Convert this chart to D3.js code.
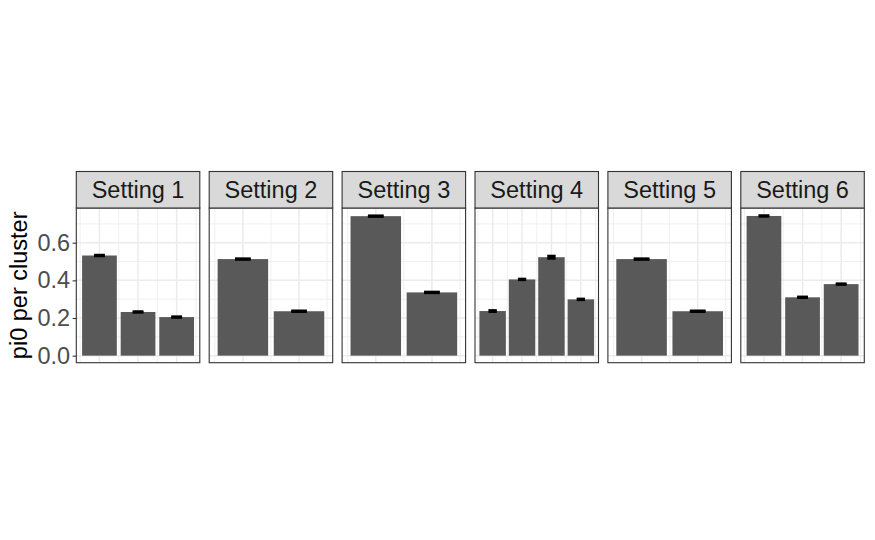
<!DOCTYPE html>
<html>
<head>
<meta charset="utf-8">
<script src="https://cdn.jsdelivr.net/npm/d3@7"></script>
<style>
  html, body { margin: 0; padding: 0; background: #fff; }
  svg { display: block; font-family: "Liberation Sans", Arial, sans-serif; }
</style>
</head>
<body>
<svg id="chart" width="875" height="540"></svg>
<script>
// facet labels
const settings = ["Setting 1", "Setting 2", "Setting 3", "Setting 4", "Setting 5", "Setting 6"];

// pi0 per cluster, one array per setting
const pi0S1 = [0.532, 0.232, 0.205];
const pi0S2 = [0.513, 0.236];
const pi0S3 = [0.741, 0.336];
const pi0S4 = [0.237, 0.405, 0.523, 0.299];
const pi0S5 = [0.513, 0.236];
const pi0S6 = [0.742, 0.310, 0.380];

// standard errors (half width of error bars)
const seS1 = [0.005, 0.005, 0.005];
const seS2 = [0.005, 0.005];
const seS3 = [0.005, 0.005];
const seS4 = [0.006, 0.005, 0.009, 0.005];
const seS5 = [0.005, 0.005];
const seS6 = [0.005, 0.005, 0.005];

const yTicks = [0, 0.2, 0.4, 0.6];
const yMinor = [0.1, 0.3, 0.5, 0.7];

const values = [pi0S1, pi0S2, pi0S3, pi0S4, pi0S5, pi0S6];
const errors = [seS1, seS2, seS3, seS4, seS5, seS6];

const svg = d3.select("#chart");

const left = 76.3, right = 864.3, gap = 9.4;
const stripTop = 171.5, panelTop = 208, panelBottom = 362.7;
const panelW = (right - left - gap * 5) / 6;
const fontSize = 23.5;

// y domain like ggplot: data range plus 5% each side
const yMax = d3.max(values.flatMap((v, i) => v.map((d, j) => d + errors[i][j])));
const ySpan = yMax - 0;
const y = d3.scaleLinear()
    .domain([-ySpan * 0.05, yMax + ySpan * 0.05])
    .range([panelBottom, panelTop]);

settings.forEach((name, i) => {
    const vals = values[i], se = errors[i];
    const n = vals.length;
    const x0 = left + i * (panelW + gap);
    const x = d3.scaleLinear().domain([0.4, n + 0.6]).range([x0, x0 + panelW]);
    const g = svg.append("g");

    g.append("rect")
        .attr("x", x0).attr("y", panelTop)
        .attr("width", panelW).attr("height", panelBottom - panelTop)
        .attr("fill", "#fff");

    // minor grid
    yMinor.forEach(t => {
        g.append("line")
            .attr("x1", x0).attr("x2", x0 + panelW)
            .attr("y1", y(t)).attr("y2", y(t))
            .attr("stroke", "#EBEBEB").attr("stroke-width", 0.75);
    });
    d3.range(0, n + 1).forEach(k => {
        g.append("line")
            .attr("x1", x(k + 0.5)).attr("x2", x(k + 0.5))
            .attr("y1", panelTop).attr("y2", panelBottom)
            .attr("stroke", "#EBEBEB").attr("stroke-width", 0.75);
    });
    // major grid
    yTicks.forEach(t => {
        g.append("line")
            .attr("x1", x0).attr("x2", x0 + panelW)
            .attr("y1", y(t)).attr("y2", y(t))
            .attr("stroke", "#EBEBEB").attr("stroke-width", 1.5);
    });
    d3.range(1, n + 1).forEach(k => {
        g.append("line")
            .attr("x1", x(k)).attr("x2", x(k))
            .attr("y1", panelTop).attr("y2", panelBottom)
            .attr("stroke", "#EBEBEB").attr("stroke-width", 1.5);
    });

    // bars
    g.selectAll("rect.bar")
        .data(vals)
        .enter().append("rect")
        .attr("class", "bar")
        .attr("x", (d, j) => x(j + 1 - 0.45))
        .attr("width", x(1.45) - x(0.55))
        .attr("y", d => y(d))
        .attr("height", d => y(0) - y(d))
        .attr("fill", "#595959");

    // error bars
    const ew = 0.14;
    const eb = g.selectAll("g.err")
        .data(vals)
        .enter().append("g")
        .attr("class", "err")
        .attr("stroke", "#000")
        .attr("stroke-width", 1.6);
    eb.append("line")
        .attr("x1", (d, j) => x(j + 1 - ew)).attr("x2", (d, j) => x(j + 1 + ew))
        .attr("y1", (d, j) => y(d + se[j])).attr("y2", (d, j) => y(d + se[j]));
    eb.append("line")
        .attr("x1", (d, j) => x(j + 1 - ew)).attr("x2", (d, j) => x(j + 1 + ew))
        .attr("y1", (d, j) => y(d - se[j])).attr("y2", (d, j) => y(d - se[j]));
    eb.append("rect")
        .attr("x", (d, j) => x(j + 1 - ew))
        .attr("width", (d, j) => x(1 + ew) - x(1 - ew))
        .attr("y", (d, j) => y(d + se[j]))
        .attr("height", (d, j) => y(d - se[j]) - y(d + se[j]))
        .attr("fill", "#000").attr("stroke", "none");

    // panel border
    g.append("rect")
        .attr("x", x0).attr("y", panelTop)
        .attr("width", panelW).attr("height", panelBottom - panelTop)
        .attr("fill", "none").attr("stroke", "#333333").attr("stroke-width", 1.1);

    // strip
    g.append("rect")
        .attr("x", x0).attr("y", stripTop)
        .attr("width", panelW).attr("height", panelTop - stripTop)
        .attr("fill", "#D9D9D9").attr("stroke", "#333333").attr("stroke-width", 1.1);
    g.append("text")
        .attr("x", x0 + panelW / 2).attr("y", (stripTop + panelTop) / 2)
        .attr("dy", "0.36em")
        .attr("text-anchor", "middle")
        .attr("fill", "#1A1A1A")
        .attr("font-size", fontSize)
        .text(name);
});

// y axis
const yAxis = svg.append("g")
    .attr("transform", `translate(${left},0)`)
    .call(d3.axisLeft(y).tickValues(yTicks).tickFormat(d3.format(".1f")).tickSize(3.7).tickPadding(2.5));
yAxis.select(".domain").remove();
yAxis.selectAll(".tick line").attr("stroke", "#333333").attr("stroke-width", 1.1);
yAxis.selectAll(".tick text")
    .attr("fill", "#4D4D4D")
    .attr("font-size", fontSize)
    .attr("font-family", "Liberation Sans, Arial, sans-serif");

svg.append("text")
    .attr("transform", `translate(19,${(panelTop + panelBottom) / 2}) rotate(-90)`)
    .attr("dy", "0.36em")
    .attr("text-anchor", "middle")
    .attr("fill", "#000")
    .attr("font-size", fontSize)
    .text("pi0 per cluster");
</script>
</body>
</html>
